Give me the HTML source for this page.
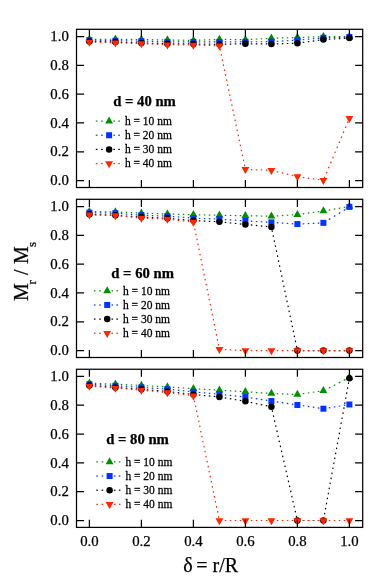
<!DOCTYPE html>
<html><head><meta charset="utf-8"><title>Mr/Ms vs delta</title>
<style>
html,body{margin:0;padding:0;background:#fff}
svg{display:block;will-change:transform}
text{font-family:"Liberation Serif",serif;fill:#000;stroke:#000;stroke-width:0.25px}
.t{font-size:14.8px}
.l{font-size:11.5px}
.h{font-size:14.7px;font-weight:bold}
.a{font-size:20px}
</style></head><body>
<svg width="382" height="586" viewBox="0 0 382 586">
<rect width="382" height="586" fill="#fff"/>
<!-- panel 1 -->
<g fill="none" stroke="#008f00" stroke-width="1.2"><path d="M89.4 39.38L115.4 39.24" stroke-dasharray="1.5 3.5" stroke-dashoffset="-0.4"/><path d="M115.4 39.24L141.4 39.53" stroke-dasharray="1.5 3.5" stroke-dashoffset="-0.4"/><path d="M141.4 39.53L167.4 39.96" stroke-dasharray="1.5 3.5" stroke-dashoffset="-0.4"/><path d="M167.4 39.96L193.4 40.39" stroke-dasharray="1.5 3.5" stroke-dashoffset="-0.4"/><path d="M193.4 40.39L219.4 39.38" stroke-dasharray="1.5 3.5" stroke-dashoffset="-0.4"/><path d="M219.4 39.38L245.4 39.67" stroke-dasharray="1.5 3.5" stroke-dashoffset="-0.4"/><path d="M245.4 39.67L271.4 38.23" stroke-dasharray="1.5 3.51" stroke-dashoffset="-0.4"/><path d="M271.4 38.23L297.4 37.51" stroke-dasharray="1.5 3.5" stroke-dashoffset="-0.4"/><path d="M297.4 37.51L323.4 36.64" stroke-dasharray="1.5 3.5" stroke-dashoffset="-0.4"/><path d="M323.4 36.64L349.4 36.64" stroke-dasharray="1.5 3.5" stroke-dashoffset="-0.4"/></g>
<path d="M89.4 34.72L93.35 41.72H85.45Z" fill="#008f00"/>
<path d="M115.4 34.57L119.35 41.57H111.45Z" fill="#008f00"/>
<path d="M141.4 34.86L145.35 41.86H137.45Z" fill="#008f00"/>
<path d="M167.4 35.29L171.35 42.29H163.45Z" fill="#008f00"/>
<path d="M193.4 35.72L197.35 42.72H189.45Z" fill="#008f00"/>
<path d="M219.4 34.72L223.35 41.72H215.45Z" fill="#008f00"/>
<path d="M245.4 35L249.35 42H241.45Z" fill="#008f00"/>
<path d="M271.4 33.56L275.35 40.56H267.45Z" fill="#008f00"/>
<path d="M297.4 32.84L301.35 39.84H293.45Z" fill="#008f00"/>
<path d="M323.4 31.98L327.35 38.98H319.45Z" fill="#008f00"/>
<path d="M349.4 31.98L353.35 38.98H345.45Z" fill="#008f00"/>
<g fill="none" stroke="#0433ff" stroke-width="1.2"><path d="M89.4 40.1L115.4 40.82" stroke-dasharray="1.5 3.5" stroke-dashoffset="-0.4"/><path d="M115.4 40.82L141.4 41.11" stroke-dasharray="1.5 3.5" stroke-dashoffset="-0.4"/><path d="M141.4 41.11L167.4 41.9" stroke-dasharray="1.5 3.5" stroke-dashoffset="-0.4"/><path d="M167.4 41.9L193.4 41.9" stroke-dasharray="1.5 3.5" stroke-dashoffset="-0.4"/><path d="M193.4 41.9L219.4 41.98" stroke-dasharray="1.5 3.5" stroke-dashoffset="-0.4"/><path d="M219.4 41.98L245.4 41.83" stroke-dasharray="1.5 3.5" stroke-dashoffset="-0.4"/><path d="M245.4 41.83L271.4 41.69" stroke-dasharray="1.5 3.5" stroke-dashoffset="-0.4"/><path d="M271.4 41.69L297.4 40.1" stroke-dasharray="1.5 3.51" stroke-dashoffset="-0.4"/><path d="M297.4 40.1L323.4 37.8" stroke-dasharray="1.51 3.51" stroke-dashoffset="-0.4"/><path d="M323.4 37.8L349.4 37" stroke-dasharray="1.5 3.5" stroke-dashoffset="-0.4"/></g>
<rect x="86.4" y="37.1" width="6" height="6" fill="#0433ff"/>
<rect x="112.4" y="37.82" width="6" height="6" fill="#0433ff"/>
<rect x="138.4" y="38.11" width="6" height="6" fill="#0433ff"/>
<rect x="164.4" y="38.9" width="6" height="6" fill="#0433ff"/>
<rect x="190.4" y="38.9" width="6" height="6" fill="#0433ff"/>
<rect x="216.4" y="38.98" width="6" height="6" fill="#0433ff"/>
<rect x="242.4" y="38.83" width="6" height="6" fill="#0433ff"/>
<rect x="268.4" y="38.69" width="6" height="6" fill="#0433ff"/>
<rect x="294.4" y="37.1" width="6" height="6" fill="#0433ff"/>
<rect x="320.4" y="34.8" width="6" height="6" fill="#0433ff"/>
<rect x="346.4" y="34" width="6" height="6" fill="#0433ff"/>
<g fill="none" stroke="#000000" stroke-width="1.2"><path d="M89.4 41.4L115.4 42.12" stroke-dasharray="1.5 3.5" stroke-dashoffset="-0.4"/><path d="M115.4 42.12L141.4 42.98" stroke-dasharray="1.5 3.5" stroke-dashoffset="-0.4"/><path d="M141.4 42.98L167.4 43.71" stroke-dasharray="1.5 3.5" stroke-dashoffset="-0.4"/><path d="M167.4 43.71L193.4 43.99" stroke-dasharray="1.5 3.5" stroke-dashoffset="-0.4"/><path d="M193.4 43.99L219.4 44.35" stroke-dasharray="1.5 3.5" stroke-dashoffset="-0.4"/><path d="M219.4 44.35L245.4 43.71" stroke-dasharray="1.5 3.5" stroke-dashoffset="-0.4"/><path d="M245.4 43.71L271.4 43.99" stroke-dasharray="1.5 3.5" stroke-dashoffset="-0.4"/><path d="M271.4 43.99L297.4 43.2" stroke-dasharray="1.5 3.5" stroke-dashoffset="-0.4"/><path d="M297.4 43.2L323.4 39.57" stroke-dasharray="1.51 3.53" stroke-dashoffset="-0.4"/><path d="M323.4 39.57L349.4 38.09" stroke-dasharray="1.5 3.51" stroke-dashoffset="-0.4"/></g>
<circle cx="89.4" cy="41.4" r="3.25" fill="#000000"/>
<circle cx="115.4" cy="42.12" r="3.25" fill="#000000"/>
<circle cx="141.4" cy="42.98" r="3.25" fill="#000000"/>
<circle cx="167.4" cy="43.71" r="3.25" fill="#000000"/>
<circle cx="193.4" cy="43.99" r="3.25" fill="#000000"/>
<circle cx="219.4" cy="44.35" r="3.25" fill="#000000"/>
<circle cx="245.4" cy="43.71" r="3.25" fill="#000000"/>
<circle cx="271.4" cy="43.99" r="3.25" fill="#000000"/>
<circle cx="297.4" cy="43.2" r="3.25" fill="#000000"/>
<circle cx="323.4" cy="39.57" r="3.25" fill="#000000"/>
<circle cx="349.4" cy="38.09" r="3.25" fill="#000000"/>
<g fill="none" stroke="#ff2600" stroke-width="1.2"><path d="M89.4 41.98L115.4 42.75" stroke-dasharray="1.5 3.5" stroke-dashoffset="-0.4"/><path d="M115.4 42.75L141.4 43.56" stroke-dasharray="1.5 3.5" stroke-dashoffset="-0.4"/><path d="M141.4 43.56L167.4 44.71" stroke-dasharray="1.5 3.5" stroke-dashoffset="-0.4"/><path d="M167.4 44.71L193.4 45" stroke-dasharray="1.5 3.5" stroke-dashoffset="-0.4"/><path d="M193.4 45L219.4 45.72" stroke-dasharray="1.5 3.5" stroke-dashoffset="-0.4"/><path d="M219.4 45.72L245.4 169.36" stroke-dasharray="1.53 3.6" stroke-dashoffset="-3.58"/><path d="M245.4 169.36L271.4 170.37" stroke-dasharray="1.5 3.5" stroke-dashoffset="-0.4"/><path d="M271.4 170.37L297.4 176.57" stroke-dasharray="1.54 3.6" stroke-dashoffset="-0.41"/><path d="M297.4 176.57L323.4 180.31" stroke-dasharray="1.52 3.54" stroke-dashoffset="-0.4"/><path d="M323.4 180.31L349.4 118.35" stroke-dasharray="1.63 3.82" stroke-dashoffset="-2.23"/></g>
<path d="M89.4 46.64L93.35 39.64H85.45Z" fill="#ff2600"/>
<path d="M115.4 47.42L119.35 40.42H111.45Z" fill="#ff2600"/>
<path d="M141.4 48.23L145.35 41.23H137.45Z" fill="#ff2600"/>
<path d="M167.4 49.38L171.35 42.38H163.45Z" fill="#ff2600"/>
<path d="M193.4 49.67L197.35 42.67H189.45Z" fill="#ff2600"/>
<path d="M219.4 50.39L223.35 43.39H215.45Z" fill="#ff2600"/>
<path d="M245.4 174.03L249.35 167.03H241.45Z" fill="#ff2600"/>
<path d="M271.4 175.04L275.35 168.04H267.45Z" fill="#ff2600"/>
<path d="M297.4 181.23L301.35 174.23H293.45Z" fill="#ff2600"/>
<path d="M323.4 184.98L327.35 177.98H319.45Z" fill="#ff2600"/>
<path d="M349.4 123.02L353.35 116.02H345.45Z" fill="#ff2600"/>
<path d="M89.4 29.3v7.6M89.4 187.5v-7.6M76.5 180.6h7.6M362.7 180.6h-7.6M141.4 29.3v7.6M141.4 187.5v-7.6M76.5 151.78h7.6M362.7 151.78h-7.6M193.4 29.3v7.6M193.4 187.5v-7.6M76.5 122.96h7.6M362.7 122.96h-7.6M245.4 29.3v7.6M245.4 187.5v-7.6M76.5 94.14h7.6M362.7 94.14h-7.6M297.4 29.3v7.6M297.4 187.5v-7.6M76.5 65.32h7.6M362.7 65.32h-7.6M349.4 29.3v7.6M349.4 187.5v-7.6M76.5 36.5h7.6M362.7 36.5h-7.6" stroke="#000" stroke-width="1.25" fill="none"/>
<rect x="76.5" y="29.3" width="286.2" height="158.2" fill="none" stroke="#000" stroke-width="1.25"/>
<text x="68.8" y="185.3" text-anchor="end" class="t">0.0</text>
<text x="68.8" y="156.48" text-anchor="end" class="t">0.2</text>
<text x="68.8" y="127.66" text-anchor="end" class="t">0.4</text>
<text x="68.8" y="98.84" text-anchor="end" class="t">0.6</text>
<text x="68.8" y="70.02" text-anchor="end" class="t">0.8</text>
<text x="68.8" y="41.2" text-anchor="end" class="t">1.0</text>
<text x="144.5" y="106" text-anchor="middle" class="h">d = 40 nm</text>
<rect x="95.8" y="120.5" width="1.6" height="1.2" fill="#008f00"/>
<rect x="101.1" y="120.5" width="1.6" height="1.2" fill="#008f00"/>
<rect x="113.4" y="120.5" width="1.6" height="1.2" fill="#008f00"/>
<rect x="118.3" y="120.5" width="1.6" height="1.2" fill="#008f00"/>
<path d="M109.1 116.43L113.05 123.43H105.15Z" fill="#008f00"/>
<text transform="translate(124.9 124.8) scale(1 1.1)" class="l">h = 10 nm</text>
<rect x="95.8" y="134.65" width="1.6" height="1.2" fill="#0433ff"/>
<rect x="101.1" y="134.65" width="1.6" height="1.2" fill="#0433ff"/>
<rect x="113.4" y="134.65" width="1.6" height="1.2" fill="#0433ff"/>
<rect x="118.3" y="134.65" width="1.6" height="1.2" fill="#0433ff"/>
<rect x="106.1" y="132.25" width="6" height="6" fill="#0433ff"/>
<text transform="translate(124.9 138.95) scale(1 1.1)" class="l">h = 20 nm</text>
<rect x="95.8" y="148.8" width="1.6" height="1.2" fill="#000000"/>
<rect x="101.1" y="148.8" width="1.6" height="1.2" fill="#000000"/>
<rect x="113.4" y="148.8" width="1.6" height="1.2" fill="#000000"/>
<rect x="118.3" y="148.8" width="1.6" height="1.2" fill="#000000"/>
<circle cx="109.1" cy="149.4" r="3.25" fill="#000000"/>
<text transform="translate(124.9 153.1) scale(1 1.1)" class="l">h = 30 nm</text>
<rect x="95.8" y="162.95" width="1.6" height="1.2" fill="#ff2600"/>
<rect x="101.1" y="162.95" width="1.6" height="1.2" fill="#ff2600"/>
<rect x="113.4" y="162.95" width="1.6" height="1.2" fill="#ff2600"/>
<rect x="118.3" y="162.95" width="1.6" height="1.2" fill="#ff2600"/>
<path d="M109.1 168.22L113.05 161.22H105.15Z" fill="#ff2600"/>
<text transform="translate(124.9 167.25) scale(1 1.1)" class="l">h = 40 nm</text>
<!-- panel 2 -->
<g fill="none" stroke="#008f00" stroke-width="1.2"><path d="M89.4 211.54L115.4 211.98" stroke-dasharray="1.5 3.5" stroke-dashoffset="-0.4"/><path d="M115.4 211.98L141.4 213.13" stroke-dasharray="1.5 3.5" stroke-dashoffset="-0.4"/><path d="M141.4 213.13L167.4 213.99" stroke-dasharray="1.5 3.5" stroke-dashoffset="-0.4"/><path d="M167.4 213.99L193.4 214.71" stroke-dasharray="1.5 3.5" stroke-dashoffset="-0.4"/><path d="M193.4 214.71L219.4 215.29" stroke-dasharray="1.5 3.5" stroke-dashoffset="-0.4"/><path d="M219.4 215.29L245.4 215.72" stroke-dasharray="1.5 3.5" stroke-dashoffset="-0.4"/><path d="M245.4 215.72L271.4 216.23" stroke-dasharray="1.5 3.5" stroke-dashoffset="-0.4"/><path d="M271.4 216.23L297.4 214.57" stroke-dasharray="1.5 3.51" stroke-dashoffset="-0.4"/><path d="M297.4 214.57L323.4 211.02" stroke-dasharray="1.51 3.53" stroke-dashoffset="-0.4"/><path d="M323.4 211.02L349.4 206.5" stroke-dasharray="1.52 3.55" stroke-dashoffset="-0.41"/></g>
<path d="M89.4 206.88L93.35 213.88H85.45Z" fill="#008f00"/>
<path d="M115.4 207.31L119.35 214.31H111.45Z" fill="#008f00"/>
<path d="M141.4 208.46L145.35 215.46H137.45Z" fill="#008f00"/>
<path d="M167.4 209.33L171.35 216.33H163.45Z" fill="#008f00"/>
<path d="M193.4 210.05L197.35 217.05H189.45Z" fill="#008f00"/>
<path d="M219.4 210.62L223.35 217.62H215.45Z" fill="#008f00"/>
<path d="M245.4 211.06L249.35 218.06H241.45Z" fill="#008f00"/>
<path d="M271.4 211.56L275.35 218.56H267.45Z" fill="#008f00"/>
<path d="M297.4 209.9L301.35 216.9H293.45Z" fill="#008f00"/>
<path d="M323.4 206.36L327.35 213.36H319.45Z" fill="#008f00"/>
<path d="M349.4 201.83L353.35 208.83H345.45Z" fill="#008f00"/>
<g fill="none" stroke="#0433ff" stroke-width="1.2"><path d="M89.4 212.7L115.4 213.2" stroke-dasharray="1.5 3.5" stroke-dashoffset="-0.4"/><path d="M115.4 213.2L141.4 215.15" stroke-dasharray="1.5 3.51" stroke-dashoffset="-0.4"/><path d="M141.4 215.15L167.4 216.15" stroke-dasharray="1.5 3.5" stroke-dashoffset="-0.4"/><path d="M167.4 216.15L193.4 218.03" stroke-dasharray="1.5 3.51" stroke-dashoffset="-0.4"/><path d="M193.4 218.03L219.4 219.18" stroke-dasharray="1.5 3.5" stroke-dashoffset="-0.4"/><path d="M219.4 219.18L245.4 220.91" stroke-dasharray="1.5 3.51" stroke-dashoffset="-0.4"/><path d="M245.4 220.91L271.4 222.35" stroke-dasharray="1.5 3.51" stroke-dashoffset="-0.4"/><path d="M271.4 222.35L297.4 224.08" stroke-dasharray="1.5 3.51" stroke-dashoffset="-0.4"/><path d="M297.4 224.08L323.4 222.86" stroke-dasharray="1.5 3.5" stroke-dashoffset="-0.4"/><path d="M323.4 222.86L349.4 206.93" stroke-dasharray="1.76 4.1" stroke-dashoffset="-0.47"/></g>
<rect x="86.4" y="209.7" width="6" height="6" fill="#0433ff"/>
<rect x="112.4" y="210.2" width="6" height="6" fill="#0433ff"/>
<rect x="138.4" y="212.15" width="6" height="6" fill="#0433ff"/>
<rect x="164.4" y="213.15" width="6" height="6" fill="#0433ff"/>
<rect x="190.4" y="215.03" width="6" height="6" fill="#0433ff"/>
<rect x="216.4" y="216.18" width="6" height="6" fill="#0433ff"/>
<rect x="242.4" y="217.91" width="6" height="6" fill="#0433ff"/>
<rect x="268.4" y="219.35" width="6" height="6" fill="#0433ff"/>
<rect x="294.4" y="221.08" width="6" height="6" fill="#0433ff"/>
<rect x="320.4" y="219.86" width="6" height="6" fill="#0433ff"/>
<rect x="346.4" y="203.93" width="6" height="6" fill="#0433ff"/>
<g fill="none" stroke="#000000" stroke-width="1.2"><path d="M89.4 214.28L115.4 215.29" stroke-dasharray="1.5 3.5" stroke-dashoffset="-0.4"/><path d="M115.4 215.29L141.4 217.09" stroke-dasharray="1.5 3.51" stroke-dashoffset="-0.4"/><path d="M141.4 217.09L167.4 218.24" stroke-dasharray="1.5 3.5" stroke-dashoffset="-0.4"/><path d="M167.4 218.24L193.4 220.62" stroke-dasharray="1.51 3.51" stroke-dashoffset="-0.4"/><path d="M193.4 220.62L219.4 221.77" stroke-dasharray="1.5 3.5" stroke-dashoffset="-0.4"/><path d="M219.4 221.77L245.4 224.45" stroke-dasharray="1.51 3.52" stroke-dashoffset="-0.4"/><path d="M245.4 224.45L271.4 226.96" stroke-dasharray="1.51 3.52" stroke-dashoffset="-0.4"/><path d="M271.4 226.96L297.4 350.6" stroke-dasharray="1.53 3.6" stroke-dashoffset="-3.4"/><path d="M297.4 350.6L323.4 350.6" stroke-dasharray="1.5 3.5" stroke-dashoffset="-0.4"/><path d="M323.4 350.6L349.4 350.6" stroke-dasharray="1.5 3.5" stroke-dashoffset="-0.4"/></g>
<circle cx="89.4" cy="214.28" r="3.25" fill="#000000"/>
<circle cx="115.4" cy="215.29" r="3.25" fill="#000000"/>
<circle cx="141.4" cy="217.09" r="3.25" fill="#000000"/>
<circle cx="167.4" cy="218.24" r="3.25" fill="#000000"/>
<circle cx="193.4" cy="220.62" r="3.25" fill="#000000"/>
<circle cx="219.4" cy="221.77" r="3.25" fill="#000000"/>
<circle cx="245.4" cy="224.45" r="3.25" fill="#000000"/>
<circle cx="271.4" cy="226.96" r="3.25" fill="#000000"/>
<circle cx="297.4" cy="350.6" r="3.25" fill="#000000"/>
<circle cx="323.4" cy="350.6" r="3.25" fill="#000000"/>
<circle cx="349.4" cy="350.6" r="3.25" fill="#000000"/>
<g fill="none" stroke="#ff2600" stroke-width="1.2"><path d="M89.4 214.86L115.4 215.58" stroke-dasharray="1.5 3.5" stroke-dashoffset="-0.4"/><path d="M115.4 215.58L141.4 218.09" stroke-dasharray="1.51 3.52" stroke-dashoffset="-0.4"/><path d="M141.4 218.09L167.4 219.11" stroke-dasharray="1.5 3.5" stroke-dashoffset="-0.4"/><path d="M167.4 219.11L193.4 222.06" stroke-dasharray="1.51 3.52" stroke-dashoffset="-0.4"/><path d="M193.4 222.06L219.4 349.3" stroke-dasharray="1.53 3.59" stroke-dashoffset="-1.63"/><path d="M219.4 349.3L245.4 350.6" stroke-dasharray="1.5 3.5" stroke-dashoffset="-0.4"/><path d="M245.4 350.6L271.4 350.6" stroke-dasharray="1.5 3.5" stroke-dashoffset="-0.4"/><path d="M271.4 350.6L297.4 350.6" stroke-dasharray="1.5 3.5" stroke-dashoffset="-0.4"/><path d="M297.4 350.6L323.4 350.6" stroke-dasharray="1.5 3.5" stroke-dashoffset="-0.4"/><path d="M323.4 350.6L349.4 350.6" stroke-dasharray="1.5 3.5" stroke-dashoffset="-0.4"/></g>
<path d="M89.4 219.52L93.35 212.52H85.45Z" fill="#ff2600"/>
<path d="M115.4 220.24L119.35 213.24H111.45Z" fill="#ff2600"/>
<path d="M141.4 222.75L145.35 215.75H137.45Z" fill="#ff2600"/>
<path d="M167.4 223.78L171.35 216.78H163.45Z" fill="#ff2600"/>
<path d="M193.4 226.73L197.35 219.73H189.45Z" fill="#ff2600"/>
<path d="M219.4 353.97L223.35 346.97H215.45Z" fill="#ff2600"/>
<path d="M245.4 355.27L249.35 348.27H241.45Z" fill="#ff2600"/>
<path d="M271.4 355.27L275.35 348.27H267.45Z" fill="#ff2600"/>
<path d="M297.4 355.27L301.35 348.27H293.45Z" fill="#ff2600"/>
<path d="M323.4 355.27L327.35 348.27H319.45Z" fill="#ff2600"/>
<path d="M349.4 355.27L353.35 348.27H345.45Z" fill="#ff2600"/>
<path d="M89.4 199.3v7.6M89.4 357.5v-7.6M76.5 350.6h7.6M362.7 350.6h-7.6M141.4 199.3v7.6M141.4 357.5v-7.6M76.5 321.78h7.6M362.7 321.78h-7.6M193.4 199.3v7.6M193.4 357.5v-7.6M76.5 292.96h7.6M362.7 292.96h-7.6M245.4 199.3v7.6M245.4 357.5v-7.6M76.5 264.14h7.6M362.7 264.14h-7.6M297.4 199.3v7.6M297.4 357.5v-7.6M76.5 235.32h7.6M362.7 235.32h-7.6M349.4 199.3v7.6M349.4 357.5v-7.6M76.5 206.5h7.6M362.7 206.5h-7.6" stroke="#000" stroke-width="1.25" fill="none"/>
<rect x="76.5" y="199.3" width="286.2" height="158.2" fill="none" stroke="#000" stroke-width="1.25"/>
<text x="68.8" y="355.3" text-anchor="end" class="t">0.0</text>
<text x="68.8" y="326.48" text-anchor="end" class="t">0.2</text>
<text x="68.8" y="297.66" text-anchor="end" class="t">0.4</text>
<text x="68.8" y="268.84" text-anchor="end" class="t">0.6</text>
<text x="68.8" y="240.02" text-anchor="end" class="t">0.8</text>
<text x="68.8" y="211.2" text-anchor="end" class="t">1.0</text>
<text x="142.6" y="278.1" text-anchor="middle" class="h">d = 60 nm</text>
<rect x="93.9" y="290.2" width="1.6" height="1.2" fill="#008f00"/>
<rect x="99.2" y="290.2" width="1.6" height="1.2" fill="#008f00"/>
<rect x="111.5" y="290.2" width="1.6" height="1.2" fill="#008f00"/>
<rect x="116.4" y="290.2" width="1.6" height="1.2" fill="#008f00"/>
<path d="M107.2 286.13L111.15 293.13H103.25Z" fill="#008f00"/>
<text transform="translate(123 294.5) scale(1 1.1)" class="l">h = 10 nm</text>
<rect x="93.9" y="304.35" width="1.6" height="1.2" fill="#0433ff"/>
<rect x="99.2" y="304.35" width="1.6" height="1.2" fill="#0433ff"/>
<rect x="111.5" y="304.35" width="1.6" height="1.2" fill="#0433ff"/>
<rect x="116.4" y="304.35" width="1.6" height="1.2" fill="#0433ff"/>
<rect x="104.2" y="301.95" width="6" height="6" fill="#0433ff"/>
<text transform="translate(123 308.65) scale(1 1.1)" class="l">h = 20 nm</text>
<rect x="93.9" y="318.5" width="1.6" height="1.2" fill="#000000"/>
<rect x="99.2" y="318.5" width="1.6" height="1.2" fill="#000000"/>
<rect x="111.5" y="318.5" width="1.6" height="1.2" fill="#000000"/>
<rect x="116.4" y="318.5" width="1.6" height="1.2" fill="#000000"/>
<circle cx="107.2" cy="319.1" r="3.25" fill="#000000"/>
<text transform="translate(123 322.8) scale(1 1.1)" class="l">h = 30 nm</text>
<rect x="93.9" y="332.65" width="1.6" height="1.2" fill="#ff2600"/>
<rect x="99.2" y="332.65" width="1.6" height="1.2" fill="#ff2600"/>
<rect x="111.5" y="332.65" width="1.6" height="1.2" fill="#ff2600"/>
<rect x="116.4" y="332.65" width="1.6" height="1.2" fill="#ff2600"/>
<path d="M107.2 337.92L111.15 330.92H103.25Z" fill="#ff2600"/>
<text transform="translate(123 336.95) scale(1 1.1)" class="l">h = 40 nm</text>
<!-- panel 3 -->
<g fill="none" stroke="#008f00" stroke-width="1.2"><path d="M89.4 383.1L115.4 384.22" stroke-dasharray="1.5 3.5" stroke-dashoffset="-0.4"/><path d="M115.4 384.22L141.4 385.44" stroke-dasharray="1.5 3.5" stroke-dashoffset="-0.4"/><path d="M141.4 385.44L167.4 386.9" stroke-dasharray="1.5 3.51" stroke-dashoffset="-0.4"/><path d="M167.4 386.9L193.4 388.61" stroke-dasharray="1.5 3.51" stroke-dashoffset="-0.4"/><path d="M193.4 388.61L219.4 390.23" stroke-dasharray="1.5 3.51" stroke-dashoffset="-0.4"/><path d="M219.4 390.23L245.4 391.75" stroke-dasharray="1.5 3.51" stroke-dashoffset="-0.4"/><path d="M245.4 391.75L271.4 393.5" stroke-dasharray="1.5 3.51" stroke-dashoffset="-0.4"/><path d="M271.4 393.5L297.4 394.5" stroke-dasharray="1.5 3.5" stroke-dashoffset="-0.4"/><path d="M297.4 394.5L323.4 390.69" stroke-dasharray="1.52 3.54" stroke-dashoffset="-0.4"/><path d="M323.4 390.69L349.4 377.55" stroke-dasharray="1.68 3.92" stroke-dashoffset="-0.45"/></g>
<path d="M89.4 378.43L93.35 385.43H85.45Z" fill="#008f00"/>
<path d="M115.4 379.56L119.35 386.56H111.45Z" fill="#008f00"/>
<path d="M141.4 380.77L145.35 387.77H137.45Z" fill="#008f00"/>
<path d="M167.4 382.24L171.35 389.24H163.45Z" fill="#008f00"/>
<path d="M193.4 383.94L197.35 390.94H189.45Z" fill="#008f00"/>
<path d="M219.4 385.57L223.35 392.57H215.45Z" fill="#008f00"/>
<path d="M245.4 387.08L249.35 394.08H241.45Z" fill="#008f00"/>
<path d="M271.4 388.84L275.35 395.84H267.45Z" fill="#008f00"/>
<path d="M297.4 389.83L301.35 396.83H293.45Z" fill="#008f00"/>
<path d="M323.4 386.03L327.35 393.03H319.45Z" fill="#008f00"/>
<path d="M349.4 372.89L353.35 379.89H345.45Z" fill="#008f00"/>
<g fill="none" stroke="#0433ff" stroke-width="1.2"><path d="M89.4 384.18L115.4 385.8" stroke-dasharray="1.5 3.51" stroke-dashoffset="-0.4"/><path d="M115.4 385.8L141.4 387.38" stroke-dasharray="1.5 3.51" stroke-dashoffset="-0.4"/><path d="M141.4 387.38L167.4 389.1" stroke-dasharray="1.5 3.51" stroke-dashoffset="-0.4"/><path d="M167.4 389.1L193.4 391.85" stroke-dasharray="1.51 3.52" stroke-dashoffset="-0.4"/><path d="M193.4 391.85L219.4 394.27" stroke-dasharray="1.51 3.52" stroke-dashoffset="-0.4"/><path d="M219.4 394.27L245.4 397.05" stroke-dasharray="1.51 3.52" stroke-dashoffset="-0.4"/><path d="M245.4 397.05L271.4 401.06" stroke-dasharray="1.52 3.54" stroke-dashoffset="-0.4"/><path d="M271.4 401.06L297.4 404.96" stroke-dasharray="1.52 3.54" stroke-dashoffset="-0.4"/><path d="M297.4 404.96L323.4 408.72" stroke-dasharray="1.52 3.54" stroke-dashoffset="-0.4"/><path d="M323.4 408.72L349.4 404.5" stroke-dasharray="1.52 3.55" stroke-dashoffset="-0.41"/></g>
<rect x="86.4" y="381.18" width="6" height="6" fill="#0433ff"/>
<rect x="112.4" y="382.8" width="6" height="6" fill="#0433ff"/>
<rect x="138.4" y="384.38" width="6" height="6" fill="#0433ff"/>
<rect x="164.4" y="386.1" width="6" height="6" fill="#0433ff"/>
<rect x="190.4" y="388.85" width="6" height="6" fill="#0433ff"/>
<rect x="216.4" y="391.27" width="6" height="6" fill="#0433ff"/>
<rect x="242.4" y="394.05" width="6" height="6" fill="#0433ff"/>
<rect x="268.4" y="398.06" width="6" height="6" fill="#0433ff"/>
<rect x="294.4" y="401.96" width="6" height="6" fill="#0433ff"/>
<rect x="320.4" y="405.72" width="6" height="6" fill="#0433ff"/>
<rect x="346.4" y="401.5" width="6" height="6" fill="#0433ff"/>
<g fill="none" stroke="#000000" stroke-width="1.2"><path d="M89.4 385.48L115.4 387.47" stroke-dasharray="1.5 3.51" stroke-dashoffset="-0.4"/><path d="M115.4 387.47L141.4 389.3" stroke-dasharray="1.5 3.51" stroke-dashoffset="-0.4"/><path d="M141.4 389.3L167.4 391.46" stroke-dasharray="1.51 3.51" stroke-dashoffset="-0.4"/><path d="M167.4 391.46L193.4 394.46" stroke-dasharray="1.51 3.52" stroke-dashoffset="-0.4"/><path d="M193.4 394.46L219.4 397.01" stroke-dasharray="1.51 3.52" stroke-dashoffset="-0.4"/><path d="M219.4 397.01L245.4 401.27" stroke-dasharray="1.52 3.55" stroke-dashoffset="-0.41"/><path d="M245.4 401.27L271.4 406.83" stroke-dasharray="1.53 3.58" stroke-dashoffset="-0.41"/><path d="M271.4 406.83L297.4 520.5" stroke-dasharray="1.54 3.61" stroke-dashoffset="1.46"/><path d="M297.4 520.5L323.4 520.5" stroke-dasharray="1.5 3.5" stroke-dashoffset="-0.4"/><path d="M323.4 520.5L349.4 378.27" stroke-dasharray="1.52 3.58" stroke-dashoffset="-1.2"/></g>
<circle cx="89.4" cy="385.48" r="3.25" fill="#000000"/>
<circle cx="115.4" cy="387.47" r="3.25" fill="#000000"/>
<circle cx="141.4" cy="389.3" r="3.25" fill="#000000"/>
<circle cx="167.4" cy="391.46" r="3.25" fill="#000000"/>
<circle cx="193.4" cy="394.46" r="3.25" fill="#000000"/>
<circle cx="219.4" cy="397.01" r="3.25" fill="#000000"/>
<circle cx="245.4" cy="401.27" r="3.25" fill="#000000"/>
<circle cx="271.4" cy="406.83" r="3.25" fill="#000000"/>
<circle cx="297.4" cy="520.5" r="3.25" fill="#000000"/>
<circle cx="323.4" cy="520.5" r="3.25" fill="#000000"/>
<circle cx="349.4" cy="378.27" r="3.25" fill="#000000"/>
<g fill="none" stroke="#ff2600" stroke-width="1.2"><path d="M89.4 386.2L115.4 388" stroke-dasharray="1.5 3.51" stroke-dashoffset="-0.4"/><path d="M115.4 388L141.4 390.15" stroke-dasharray="1.51 3.51" stroke-dashoffset="-0.4"/><path d="M141.4 390.15L167.4 392.55" stroke-dasharray="1.51 3.51" stroke-dashoffset="-0.4"/><path d="M167.4 392.55L193.4 395.71" stroke-dasharray="1.51 3.53" stroke-dashoffset="-0.4"/><path d="M193.4 395.71L219.4 520.5" stroke-dasharray="1.53 3.6" stroke-dashoffset="0.1"/><path d="M219.4 520.5L245.4 520.5" stroke-dasharray="1.5 3.5" stroke-dashoffset="-0.4"/><path d="M245.4 520.5L271.4 520.5" stroke-dasharray="1.5 3.5" stroke-dashoffset="-0.4"/><path d="M271.4 520.5L297.4 520.5" stroke-dasharray="1.5 3.5" stroke-dashoffset="-0.4"/><path d="M297.4 520.5L323.4 520.5" stroke-dasharray="1.5 3.5" stroke-dashoffset="-0.4"/><path d="M323.4 520.5L349.4 520.5" stroke-dasharray="1.5 3.5" stroke-dashoffset="-0.4"/></g>
<path d="M89.4 390.87L93.35 383.87H85.45Z" fill="#ff2600"/>
<path d="M115.4 392.67L119.35 385.67H111.45Z" fill="#ff2600"/>
<path d="M141.4 394.81L145.35 387.81H137.45Z" fill="#ff2600"/>
<path d="M167.4 397.22L171.35 390.22H163.45Z" fill="#ff2600"/>
<path d="M193.4 400.38L197.35 393.38H189.45Z" fill="#ff2600"/>
<path d="M219.4 525.17L223.35 518.17H215.45Z" fill="#ff2600"/>
<path d="M245.4 525.17L249.35 518.17H241.45Z" fill="#ff2600"/>
<path d="M271.4 525.17L275.35 518.17H267.45Z" fill="#ff2600"/>
<path d="M297.4 525.17L301.35 518.17H293.45Z" fill="#ff2600"/>
<path d="M323.4 525.17L327.35 518.17H319.45Z" fill="#ff2600"/>
<path d="M349.4 525.17L353.35 518.17H345.45Z" fill="#ff2600"/>
<path d="M89.4 369.25v7.6M89.4 527.4v-7.6M76.5 520.5h7.6M362.7 520.5h-7.6M141.4 369.25v7.6M141.4 527.4v-7.6M76.5 491.68h7.6M362.7 491.68h-7.6M193.4 369.25v7.6M193.4 527.4v-7.6M76.5 462.86h7.6M362.7 462.86h-7.6M245.4 369.25v7.6M245.4 527.4v-7.6M76.5 434.04h7.6M362.7 434.04h-7.6M297.4 369.25v7.6M297.4 527.4v-7.6M76.5 405.22h7.6M362.7 405.22h-7.6M349.4 369.25v7.6M349.4 527.4v-7.6M76.5 376.4h7.6M362.7 376.4h-7.6" stroke="#000" stroke-width="1.25" fill="none"/>
<rect x="76.5" y="369.25" width="286.2" height="158.15" fill="none" stroke="#000" stroke-width="1.25"/>
<text x="68.8" y="525.2" text-anchor="end" class="t">0.0</text>
<text x="68.8" y="496.38" text-anchor="end" class="t">0.2</text>
<text x="68.8" y="467.56" text-anchor="end" class="t">0.4</text>
<text x="68.8" y="438.74" text-anchor="end" class="t">0.6</text>
<text x="68.8" y="409.92" text-anchor="end" class="t">0.8</text>
<text x="68.8" y="381.1" text-anchor="end" class="t">1.0</text>
<text x="137.5" y="444.3" text-anchor="middle" class="h">d = 80 nm</text>
<rect x="96.3" y="461.3" width="1.6" height="1.2" fill="#008f00"/>
<rect x="101.6" y="461.3" width="1.6" height="1.2" fill="#008f00"/>
<rect x="113.9" y="461.3" width="1.6" height="1.2" fill="#008f00"/>
<rect x="118.8" y="461.3" width="1.6" height="1.2" fill="#008f00"/>
<path d="M109.6 457.23L113.55 464.23H105.65Z" fill="#008f00"/>
<text transform="translate(125.4 465.6) scale(1 1.1)" class="l">h = 10 nm</text>
<rect x="96.3" y="475.45" width="1.6" height="1.2" fill="#0433ff"/>
<rect x="101.6" y="475.45" width="1.6" height="1.2" fill="#0433ff"/>
<rect x="113.9" y="475.45" width="1.6" height="1.2" fill="#0433ff"/>
<rect x="118.8" y="475.45" width="1.6" height="1.2" fill="#0433ff"/>
<rect x="106.6" y="473.05" width="6" height="6" fill="#0433ff"/>
<text transform="translate(125.4 479.75) scale(1 1.1)" class="l">h = 20 nm</text>
<rect x="96.3" y="489.6" width="1.6" height="1.2" fill="#000000"/>
<rect x="101.6" y="489.6" width="1.6" height="1.2" fill="#000000"/>
<rect x="113.9" y="489.6" width="1.6" height="1.2" fill="#000000"/>
<rect x="118.8" y="489.6" width="1.6" height="1.2" fill="#000000"/>
<circle cx="109.6" cy="490.2" r="3.25" fill="#000000"/>
<text transform="translate(125.4 493.9) scale(1 1.1)" class="l">h = 30 nm</text>
<rect x="96.3" y="503.75" width="1.6" height="1.2" fill="#ff2600"/>
<rect x="101.6" y="503.75" width="1.6" height="1.2" fill="#ff2600"/>
<rect x="113.9" y="503.75" width="1.6" height="1.2" fill="#ff2600"/>
<rect x="118.8" y="503.75" width="1.6" height="1.2" fill="#ff2600"/>
<path d="M109.6 509.02L113.55 502.02H105.65Z" fill="#ff2600"/>
<text transform="translate(125.4 508.05) scale(1 1.1)" class="l">h = 40 nm</text>
<text x="89.4" y="546.4" text-anchor="middle" class="t">0.0</text>
<text x="141.4" y="546.4" text-anchor="middle" class="t">0.2</text>
<text x="193.4" y="546.4" text-anchor="middle" class="t">0.4</text>
<text x="245.4" y="546.4" text-anchor="middle" class="t">0.6</text>
<text x="297.4" y="546.4" text-anchor="middle" class="t">0.8</text>
<text x="349.4" y="546.4" text-anchor="middle" class="t">1.0</text>
<text x="183.2" y="571.8" class="a">δ<tspan dx="-1.3"> = r/R</tspan></text>
<text transform="translate(27.6 301) rotate(-90)" class="a">M<tspan dy="8.5" dx="-1.2" font-size="13">r</tspan><tspan dy="-8.5"> / </tspan><tspan dx="0.5">M</tspan><tspan dy="8.5" dx="-0.8" font-size="13">s</tspan></text>
</svg>
</body></html>
